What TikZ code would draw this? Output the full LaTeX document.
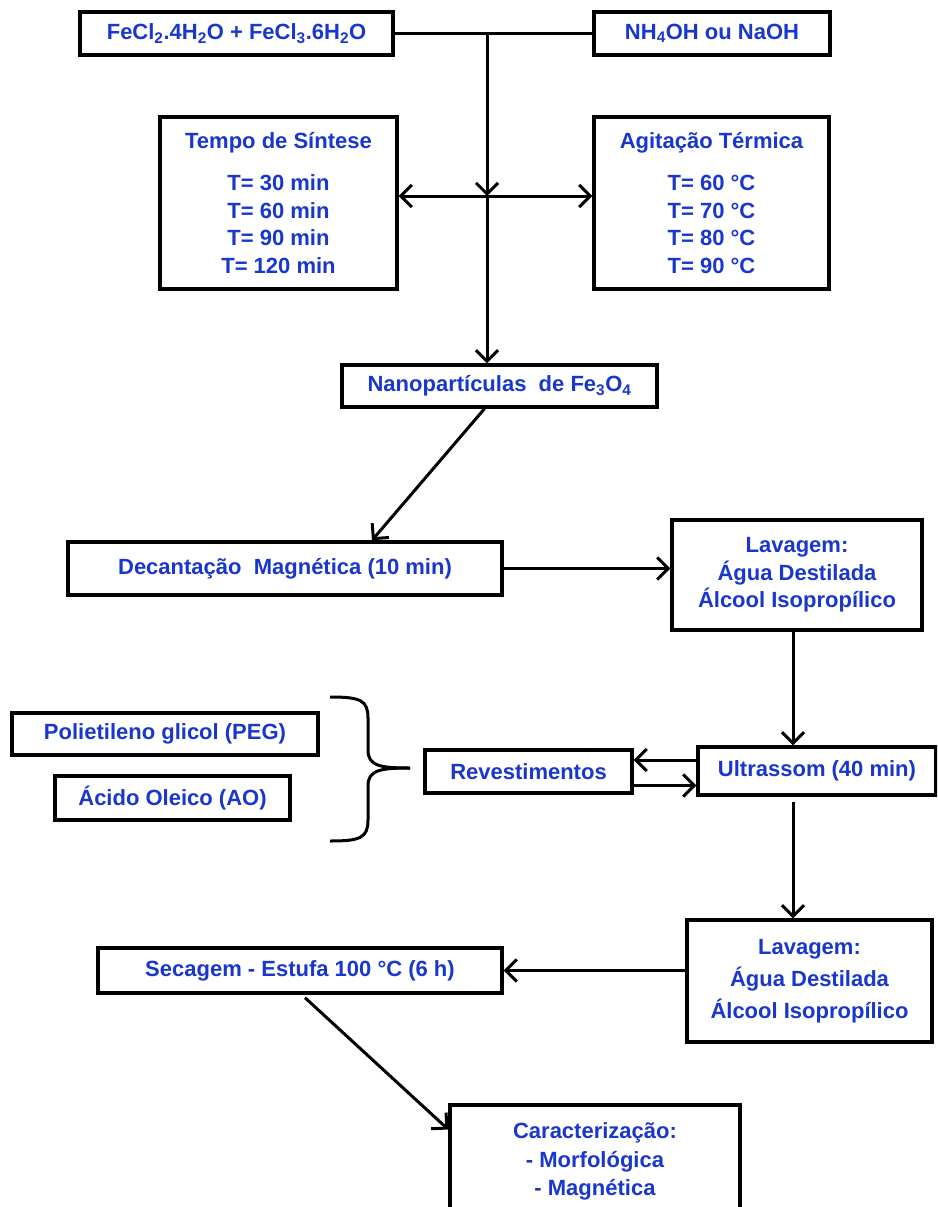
\documentclass[tikz,border=0pt]{standalone}
\usepackage{fontspec}
\setmainfont{Liberation Sans}
\usetikzlibrary{arrows.meta}
\definecolor{txtblue}{RGB}{25,55,205}
\begin{document}
\begin{tikzpicture}[x=1pt,y=-1pt,
  box/.style={draw=black, line width=3.4pt, fill=white, inner sep=0pt, text=txtblue,
    font=\bfseries\fontsize{22}{27.5}\selectfont, align=center},
  conn/.style={line width=3pt, draw=black},
  arr/.style={conn, -{Straight Barb[length=11pt,width=22pt]}}]
\useasboundingbox (0,0) rectangle (937,1207);
\clip (0,0) rectangle (937,1207);

\node[box, minimum width=313pt, minimum height=43pt] (fecl) at (236.5,33.5)
  {FeCl\textsubscript{2}.4H\textsubscript{2}O + FeCl\textsubscript{3}.6H\textsubscript{2}O};
\node[box, minimum width=236pt, minimum height=43pt] (nh4) at (712,33.5)
  {NH\textsubscript{4}OH ou NaOH};
\node[box, minimum width=237pt, minimum height=172pt] (tempo) at (278.5,203)
  {Tempo de Síntese\\[14.5pt]T= 30 min\\T= 60 min\\T= 90 min\\T= 120 min};
\node[box, minimum width=235pt, minimum height=172pt] (agit) at (711.5,203)
  {Agitação Térmica\\[14.5pt]T= 60 °C\\T= 70 °C\\T= 80 °C\\T= 90 °C};
\node[box, minimum width=315pt, minimum height=42pt] (nano) at (499.5,386)
  {Nanopartículas~ de Fe\textsubscript{3}O\textsubscript{4}};
\node[box, minimum width=434pt, minimum height=53pt] (decant) at (285,568.5)
  {Decantação~ Magnética (10 min)};
\node[box, minimum width=250pt, minimum height=110pt] (lav1) at (797,575)
  {Lavagem:\\Água Destilada\\Álcool Isopropílico};
\node[box, minimum width=238pt, minimum height=48pt] (ultra) at (817,771)
  {Ultrassom (40 min)};
\node[box, minimum width=207pt, minimum height=43pt] (revest) at (528.5,771.5)
  {Revestimentos};
\node[box, minimum width=306pt, minimum height=42pt] (peg) at (165,734)
  {Polietileno glicol (PEG)};
\node[box, minimum width=235pt, minimum height=44pt] (ao) at (172.5,798)
  {Ácido Oleico (AO)};
\node[box, minimum width=245pt, minimum height=122pt] (lav2) at (809.5,981)
  {Lavagem:\\[4.5pt]Água Destilada\\[4.5pt]Álcool Isopropílico};
\node[box, minimum width=404pt, minimum height=45pt] (secagem) at (300,970.5)
  {Secagem - Estufa 100 °C (6 h)};
\node[box, minimum width=290pt, minimum height=113pt] (carac) at (595,1161.5)
  {Caracterização:\\[1pt]- Morfológica\\[1pt]- Magnética};

\coordinate (J) at (487,33.5);
\coordinate (C) at (487,196);
\draw[conn] (fecl.east) -- (nh4.west);
\draw[arr] (J) -- (C);
\draw[arr] (C) -- (C |- nano.north);
\draw[arr] (C) -- (C -| tempo.east);
\draw[arr] (C) -- (C -| agit.west);
\draw[arr] ([xshift=-15pt]nano.south) -- ([xshift=87pt]decant.north);
\draw[arr] (decant.east) -- (decant.east -| lav1.west);
\draw[arr] ([xshift=-4pt]lav1.south) -- ([xshift=-4pt]lav1.south |- ultra.north);
\draw[arr] ([yshift=11pt]ultra.west) -- ([yshift=11pt]ultra.west -| revest.east);
\draw[arr] ([yshift=-14pt]revest.east) -- ([yshift=-14pt]revest.east -| ultra.west);
\draw[arr] ([xshift=-24pt,yshift=-5pt]ultra.south) -- ([xshift=-24pt]ultra.south |- lav2.north);
\draw[arr] (lav2.west |- secagem.east) -- (secagem.east);
\draw[arr] ([xshift=5pt,yshift=-3pt]secagem.south) -- ([yshift=32pt]carac.west);

% brace
\draw[conn] (330,697) .. controls (360,697) and (368,700) .. (368,718) -- (368,750)
  .. controls (368,766) and (380,768) .. (410,768);
\draw[conn] (330,841) .. controls (360,841) and (368,838) .. (368,820) -- (368,786)
  .. controls (368,770) and (380,768) .. (410,768);
\end{tikzpicture}
\end{document}
